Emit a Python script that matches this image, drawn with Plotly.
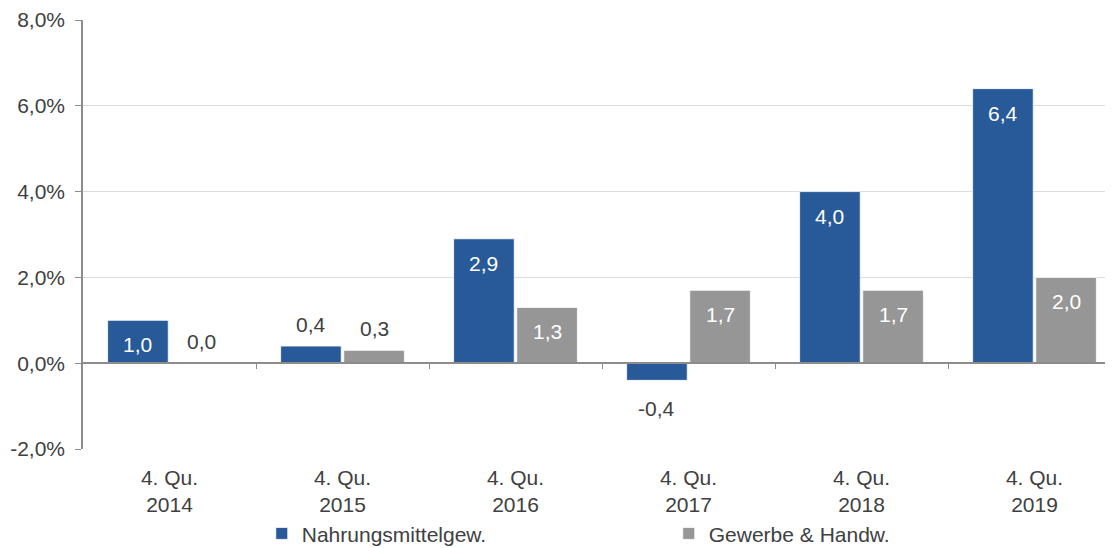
import plotly.graph_objects as go

categories = ["4. Qu.<br>2014", "4. Qu.<br>2015", "4. Qu.<br>2016", "4. Qu.<br>2017", "4. Qu.<br>2018", "4. Qu.<br>2019"]
nahrung = [1.0, 0.4, 2.9, -0.4, 4.0, 6.4]
gewerbe = [0.0, 0.3, 1.3, 1.7, 1.7, 2.0]
series_names = ["Nahrungsmittelgew.", "Gewerbe & Handw."]
y_ticks = [-2, 0, 2, 4, 6, 8]

BLUE = "#285a99"
GRAY = "#969696"
TXT = "#404040"
FONT = "Liberation Sans, Arial, sans-serif"
FS = 21
BARGAP = 0.27

def fmt(v):
    return f"{v:.1f}".replace(".", ",")

fig = go.Figure()
fig.add_trace(go.Bar(x=categories, y=nahrung, name=series_names[0],
                     marker=dict(color=BLUE, line=dict(color="white", width=0.8))))
fig.add_trace(go.Bar(x=categories, y=gewerbe, name=series_names[1],
                     marker=dict(color=GRAY, line=dict(color="white", width=0.8))))
# invisible trace carrying the axis line at zero
fig.add_trace(go.Scatter(x=[-0.5, 5.5], y=[0, 0], xaxis="x2", mode="lines", line=dict(width=0),
                         showlegend=False, hoverinfo="skip"))

annotations = []
inside_threshold = 0.9
off = (1 - BARGAP) / 4
for vals, offset in [(nahrung, -off), (gewerbe, off)]:
    for j, v in enumerate(vals):
        x = j + offset
        if abs(v) >= inside_threshold:
            annotations.append(dict(x=x, y=v, xref="x2", yref="y", text=fmt(v), showarrow=False,
                                    yanchor="top", yshift=-11, font=dict(color="white", size=FS, family=FONT)))
        elif v >= 0:
            annotations.append(dict(x=x, y=v, xref="x2", yref="y", text=fmt(v), showarrow=False,
                                    yanchor="bottom", yshift=8, font=dict(color=TXT, size=FS, family=FONT)))
        else:
            annotations.append(dict(x=x, y=v, xref="x2", yref="y", text=fmt(v), showarrow=False,
                                    yanchor="top", yshift=-15, font=dict(color=TXT, size=FS, family=FONT)))

ymin, ymax = -2, 8
fig.update_layout(
    width=1113, height=548,
    margin=dict(l=75, r=0, t=12, b=107),
    plot_bgcolor="white", paper_bgcolor="white",
    font=dict(family=FONT, color=TXT, size=FS),
    barmode="group", bargap=BARGAP, bargroupgap=0.04,
    showlegend=True,
    legend=dict(orientation="h", xref="container", x=0.228, xanchor="left",
                yref="container", y=0.078, yanchor="top",
                font=dict(size=FS, color=TXT), entrywidth=362, itemwidth=30,
                traceorder="normal"),
    xaxis=dict(type="category", showline=False, ticks="", showgrid=False, zeroline=False,
               tickfont=dict(size=FS, color=TXT), ticklabelstandoff=14, automargin=False),
    xaxis2=dict(overlaying="x", anchor="free", position=(0 - ymin) / (ymax - ymin), range=[-0.5, 5.5],
                showline=True, linecolor="#8c8c8c", linewidth=1.5, ticks="outside", ticklen=5,
                tickcolor="#8c8c8c", tickvals=[0.5, 1.5, 2.5, 3.5, 4.5], showticklabels=False,
                showgrid=False, zeroline=False, automargin=False),
    yaxis=dict(range=[ymin, ymax], tickvals=y_ticks, ticktext=[fmt(t) + "%" for t in y_ticks],
               showline=True, linecolor="#8c8c8c", linewidth=1.5, ticks="outside", ticklen=6,
               tickcolor="#8c8c8c", gridcolor="#dcdcdc", gridwidth=1.2, zeroline=False,
               ticklabelstandoff=6, tickfont=dict(size=FS, color=TXT), automargin=False),
    annotations=annotations,
)
fig.write_html("out.html")
